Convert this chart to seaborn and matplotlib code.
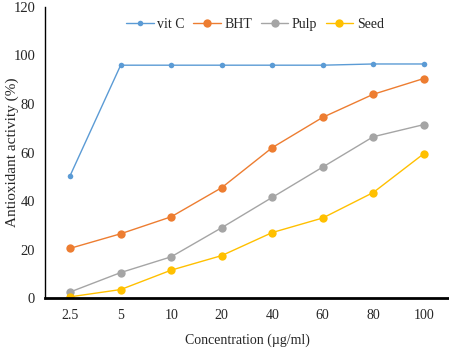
import pandas as pd
import matplotlib.pyplot as plt
import seaborn as sns

concentrations = ['2.5', '5', '10', '20', '40', '60', '80', '100']
vit_c = [50.5, 96, 96, 96, 96, 96, 96.5, 96.5]
bht = [20.5, 26.5, 33.5, 45.5, 62, 74.5, 84, 90.5]
pulp = [2.5, 10.5, 17, 29, 41.5, 54, 66.5, 71.5]
seed = [0.5, 3.5, 11.5, 17.5, 27, 33, 43.5, 59.5]

series = {'vit C': vit_c, 'BHT': bht, 'Pulp': pulp, 'Seed': seed}
colors = {'vit C': '#5B9BD5', 'BHT': '#ED7D31', 'Pulp': '#A5A5A5', 'Seed': '#FFC000'}
msizes = {'vit C': 4, 'BHT': 6, 'Pulp': 6, 'Seed': 6}

rows = []
for name, vals in series.items():
    for i, v in enumerate(vals):
        rows.append([name, i, v])
df = pd.DataFrame(rows, columns=['series', 'pos', 'value'])

sns.set_style('white')
plt.rcParams['font.family'] = ['Liberation Serif', 'DejaVu Serif']

fig = plt.figure(figsize=(4.49, 3.49), dpi=100)
ax = fig.add_axes([0.1, 0.146, 0.9, 0.834])

for name in series:
    sns.lineplot(data=df[df.series == name], x='pos', y='value', ax=ax,
                 color=colors[name], marker='o', markersize=msizes[name],
                 markeredgewidth=0, linewidth=1, label=name)

ax.set_xlim(-0.5, 7.5)
ax.set_ylim(0, 120)
ax.set_xticks(range(len(concentrations)))
ax.set_xticklabels(concentrations)
ax.set_yticks(range(0, 121, 20))
ax.tick_params(axis='x', length=0, labelsize=10, pad=8)
ax.tick_params(axis='y', length=0, labelsize=10.5, pad=7)
ax.set_xlabel('Concentration (µg/ml)', fontsize=10, labelpad=8)
ax.set_ylabel('Antioxidant activity (%)', fontsize=11)
ax.yaxis.set_label_coords(-0.065, 0.5)

sns.despine(ax=ax)
ax.spines['left'].set_color('black')
ax.spines['left'].set_linewidth(1)
ax.spines['bottom'].set_color('black')
ax.spines['bottom'].set_linewidth(2)

ax.legend(loc='upper center', bbox_to_anchor=(0.52, 1.005), ncol=4, frameon=False,
          fontsize=10, handlelength=2.0, columnspacing=0.6, handletextpad=0.25)

fig.savefig('out.png', dpi=100)
plt.close()
